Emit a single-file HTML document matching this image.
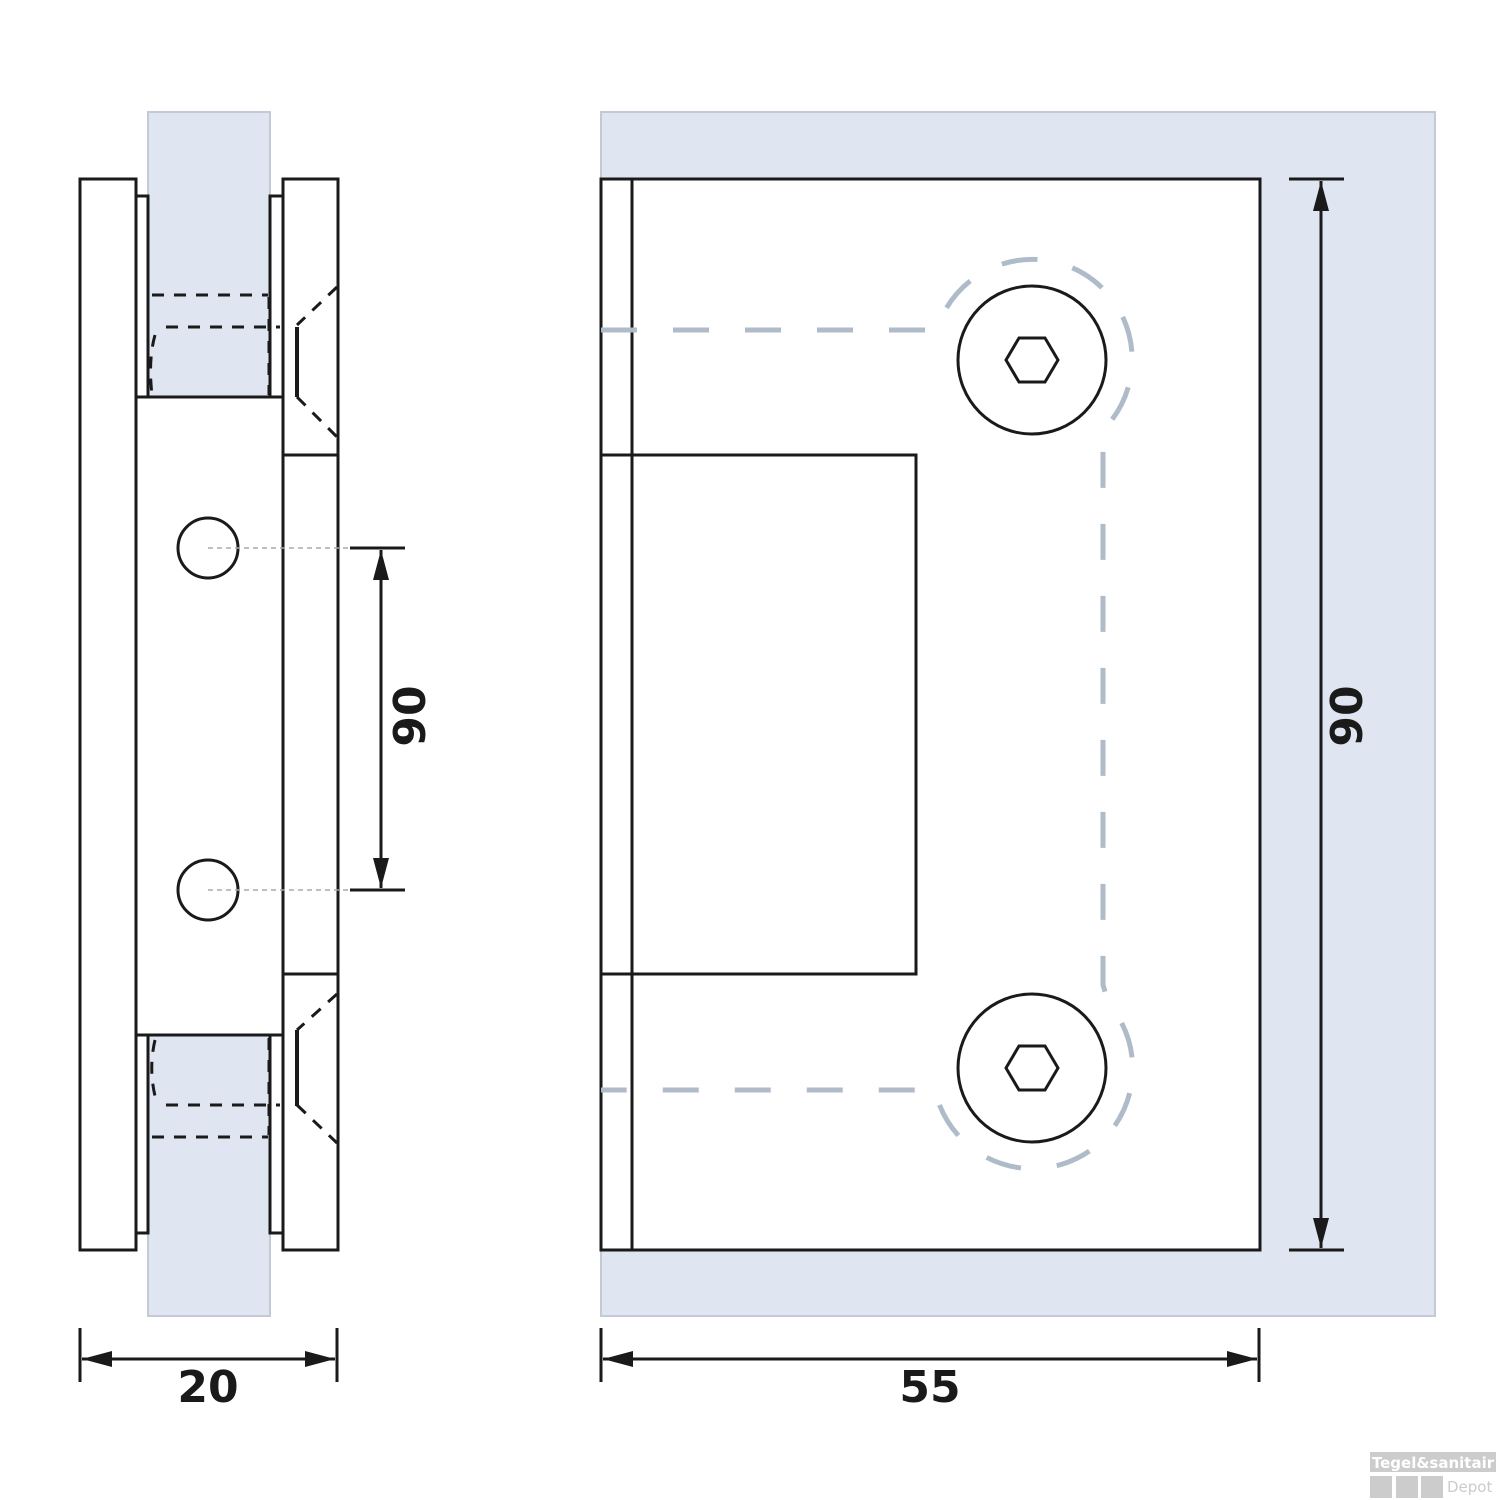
<!DOCTYPE html>
<html><head><meta charset="utf-8"><style>
html,body{margin:0;padding:0;background:#fff;}
svg{display:block;}
text{font-family:"DejaVu Sans","Liberation Sans",sans-serif;font-weight:bold;fill:#1a1a1a;}
</style></head><body>
<svg width="1500" height="1500" viewBox="0 0 1500 1500" xmlns="http://www.w3.org/2000/svg">
<defs>
<marker id="ar2" viewBox="0 0 30 16" refX="30" refY="8" markerWidth="30" markerHeight="16" markerUnits="userSpaceOnUse" orient="auto-start-reverse">
<path d="M0,0 L30,8 L0,16 z" fill="#1a1a1a"/></marker>
</defs>
<g stroke="#1a1a1a" stroke-width="3" fill="#fff">
<rect x="148" y="112" width="122" height="1204" fill="#dfe6f2" stroke="#c3cad6" stroke-width="2"/>
<rect x="80" y="179" width="56" height="1071"/>
<rect x="283" y="179" width="55" height="1071"/>
<line x1="283" y1="455" x2="338" y2="455"/>
<line x1="283" y1="974" x2="338" y2="974"/>
<rect x="136" y="196" width="12" height="201"/>
<rect x="270" y="196" width="13" height="201"/>
<rect x="136" y="1035" width="12" height="198"/>
<rect x="270" y="1035" width="13" height="198"/>
<rect x="136" y="397" width="147" height="638"/>
<circle cx="208" cy="548" r="30"/>
<circle cx="208" cy="890" r="30"/>
</g>
<g stroke="#1a1a1a" stroke-width="3" fill="none" stroke-dasharray="12 10">
<line x1="152" y1="295" x2="268" y2="295"/>
<line x1="166" y1="327" x2="280" y2="327"/>
<path d="M155 335 Q148 360 152 395"/>
<line x1="269" y1="297" x2="269" y2="395"/>
<line x1="337" y1="287" x2="297" y2="325"/>
<line x1="297" y1="397" x2="337" y2="437"/>
<line x1="152" y1="1137" x2="268" y2="1137"/>
<line x1="166" y1="1105" x2="280" y2="1105"/>
<path d="M155 1040 Q148 1070 156 1100"/>
<line x1="269" y1="1038" x2="269" y2="1135"/>
<line x1="337" y1="994" x2="297" y2="1030"/>
<line x1="297" y1="1105" x2="337" y2="1143"/>
</g>
<g stroke="#1a1a1a" stroke-width="4">
<line x1="297" y1="327" x2="297" y2="397"/>
<line x1="297" y1="1030" x2="297" y2="1106"/>
</g>
<g stroke="#aaa" stroke-width="1.5" stroke-dasharray="5 4">
<line x1="208" y1="548" x2="350" y2="548"/>
<line x1="208" y1="890" x2="350" y2="890"/>
</g>
<g stroke="#1a1a1a" stroke-width="3" fill="none">
<line x1="350" y1="548" x2="405" y2="548"/>
<line x1="350" y1="890" x2="405" y2="890"/>
<line x1="381" y1="550" x2="381" y2="888" marker-start="url(#ar2)" marker-end="url(#ar2)"/>
<line x1="80" y1="1328" x2="80" y2="1382"/>
<line x1="337" y1="1328" x2="337" y2="1382"/>
<line x1="82" y1="1359" x2="335" y2="1359" marker-start="url(#ar2)" marker-end="url(#ar2)"/>
</g>
<text x="0" y="0" font-size="44" text-anchor="middle" transform="translate(425,716) rotate(-90)">90</text>
<text x="208" y="1402" font-size="44" text-anchor="middle">20</text>

<rect x="601" y="112" width="834" height="1204" fill="#dfe6f2" stroke="#c3cad6" stroke-width="2"/>
<g stroke="#1a1a1a" stroke-width="3" fill="#fff">
<rect x="601" y="179" width="659" height="1071"/>
<line x1="632" y1="179" x2="632" y2="1250"/>
<line x1="601" y1="455" x2="632" y2="455"/>
<line x1="601" y1="974" x2="632" y2="974"/>
<rect x="632" y="455" width="284" height="519"/>
</g>
<path d="M601 330 H936.6 A100 100 0 1 1 1103 430 V985 L1109 1004 A100 100 0 1 1 935 1090 H601" fill="none" stroke="#b0bbca" stroke-width="5" stroke-dasharray="36 36"/>
<g stroke="#1a1a1a" stroke-width="3" fill="#fff">
<circle cx="1032" cy="360" r="74"/>
<circle cx="1032" cy="1068" r="74"/>
<polygon points="1006,360 1019,338 1045,338 1058,360 1045,382 1019,382"/>
<polygon points="1006,1068 1019,1046 1045,1046 1058,1068 1045,1090 1019,1090"/>
</g>
<g stroke="#1a1a1a" stroke-width="3" fill="none">
<line x1="1289" y1="179" x2="1344" y2="179"/>
<line x1="1289" y1="1250" x2="1344" y2="1250"/>
<line x1="1321" y1="181" x2="1321" y2="1248" marker-start="url(#ar2)" marker-end="url(#ar2)"/>
<line x1="601" y1="1328" x2="601" y2="1382"/>
<line x1="1259" y1="1328" x2="1259" y2="1382"/>
<line x1="603" y1="1359" x2="1257" y2="1359" marker-start="url(#ar2)" marker-end="url(#ar2)"/>
</g>
<text x="0" y="0" font-size="44" text-anchor="middle" transform="translate(1362,716) rotate(-90)">90</text>
<text x="930" y="1402" font-size="44" text-anchor="middle">55</text>

<rect x="1370" y="1452" width="126" height="20" fill="#ccc"/>
<text x="1433" y="1468" font-size="15" text-anchor="middle" style="fill:#fff">Tegel&amp;sanitair</text>
<rect x="1370" y="1476" width="22" height="22" fill="#ccc"/>
<rect x="1396" y="1476" width="22" height="22" fill="#ccc"/>
<rect x="1421" y="1476" width="22" height="22" fill="#ccc"/>
<text x="1447" y="1492" font-size="15" style="fill:#ccc;font-weight:normal">Depot</text>
</svg>
</body></html>
